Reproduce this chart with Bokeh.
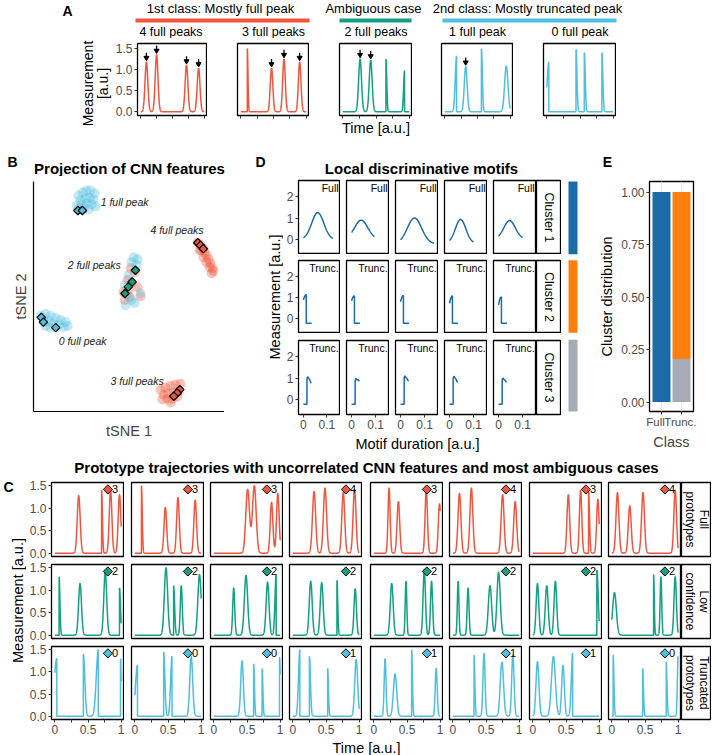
import math
import numpy as np
from bokeh.plotting import figure
from bokeh.layouts import row, column
from bokeh.models import (Range1d, FixedTicker, NumeralTickFormatter,
                          CustomJSTickFormatter, ColumnDataSource, Label, LinearAxis)
from bokeh.core.properties import value
from bokeh.embed import file_html
from bokeh.resources import INLINE

FONT = "Liberation Sans"
RED, TEAL, BLUE = "#F2553D", "#13A083", "#4FBFE0"
CL1, CL2, CL3 = "#1B6BA8", "#FF7F0E", "#A4ABB6"
GREY_TXT = "#4D4D4D"

# ======================= DATA =======================
# ---- Panel A
A_GROUPS = ["1st class: Mostly full peak", "Ambiguous case", "2nd class: Mostly truncated peak"]
A_TITLES = ["4 full peaks", "3 full peaks", "2 full peaks", "1 full peak", "0 full peak"]
# peaks: (centre, height, width, kind)  kind: f = full, L = cut right after top, R = starts at top
A_PEAKS_4 = [(0.09, 1.18, 0.022, "f"), (0.25, 1.35, 0.022, "f"), (0.72, 1.10, 0.022, "f"), (0.91, 1.03, 0.022, "f")]
A_PEAKS_3 = [(0.10, 1.50, 0.010, "R"), (0.47, 1.03, 0.020, "f"), (0.66, 1.25, 0.020, "f"), (0.90, 1.18, 0.020, "f")]
A_PEAKS_2 = [(0.26, 1.25, 0.022, "f"), (0.42, 1.22, 0.022, "f"), (0.65, 1.25, 0.012, "R"), (0.93, 0.97, 0.014, "L")]
A_PEAKS_1 = [(0.18, 1.32, 0.020, "L"), (0.32, 1.07, 0.022, "f"), (0.56, 1.49, 0.014, "R"), (0.94, 1.08, 0.026, "f")]
A_PEAKS_0 = [(0.03, 1.18, 0.025, "L"), (0.44, 1.48, 0.014, "R"), (0.565, 1.40, 0.014, "R"), (0.83, 1.40, 0.014, "R")]
A_ARROWS = [[0, 1, 2, 3], [1, 2, 3], [0, 1], [1], []]

# ---- Panel B (tSNE coordinates)
B_BLUE_X = [-16.7, -15.3, -14.0, -12.7, -11.3, -16.0, -14.3, -13.0, -11.7, -17.3, -15.7, -14.0, -12.3, -11.0,
            -16.7, -15.0, -13.3,
            -29.3, -27.7, -26.0, -24.3, -22.7, -21.0, -28.3, -26.7, -25.0, -23.3, -21.7, -20.3, -26.0, -27.7,
            1.7, 3.0, 1.0, 2.7, 0.0, -1.3, -0.3, 1.0, -1.0, 2.0, 4.0]
B_BLUE_Y = [34.0, 35.0, 35.7, 35.7, 34.7, 32.3, 33.0, 33.3, 32.7, 30.7, 31.0, 31.3, 31.0, 30.3,
            29.3, 29.7, 29.3,
            -6.3, -5.7, -6.3, -7.0, -7.7, -8.3, -8.3, -8.0, -9.0, -9.3, -10.0, -9.7, -10.3, -9.7,
            13.3, 12.7, 11.7, 10.7, 7.3, 4.0, 0.7, -1.0, -2.7, -2.0, 1.3]
B_RED_X = [23.0, 24.0, 25.0, 23.7, 25.3, 26.0, 25.0, 26.7, 26.0, 27.3, 27.0, 28.0, 28.3, 27.7, 24.3,
           10.7, 12.3, 14.0, 15.7, 17.3, 11.7, 13.3, 15.0, 16.7, 11.3, 13.0, 14.7, 16.3, 14.0,
           0.7, 2.0, -0.3, 1.0, -1.7, 0.0, -1.3, 0.3, 3.0, 4.0]
B_RED_Y = [18.3, 17.3, 16.3, 15.7, 15.0, 14.0, 13.3, 12.7, 11.7, 11.3, 10.0, 9.7, 8.7, 8.0, 15.7,
           -31.0, -30.3, -29.7, -29.3, -29.0, -32.7, -32.3, -32.0, -31.7, -34.3, -34.0, -34.0, -33.3, -35.3,
           9.7, 8.3, 5.7, 4.7, 1.7, 2.3, -1.0, 0.0, 3.3, 0.3]
B_DIA_RED_X = [23.1, 24.0, 24.9, 17.1, 16.2, 15.1]
B_DIA_RED_Y = [18.2, 17.3, 16.2, -31.0, -32.1, -33.2]
B_DIA_TEAL_X = [2.3, 1.2, -0.1, -1.2]
B_DIA_TEAL_Y = [9.0, 5.1, 3.4, 1.2]
B_DIA_BLUE_X = [-16.9, -15.4, -29.1, -28.4, -24.3]
B_DIA_BLUE_Y = [29.0, 29.0, -6.8, -8.4, -10.2]
B_LABELS = ["1 full peak", "4 full peaks", "2 full peaks", "0 full peak", "3 full peaks"]
B_LABEL_X = [-9.3, 7.3, -20.3, -23.3, -6.0]
B_LABEL_Y = [31.7, 22.3, 10.7, -14.7, -28.0]

# ---- Panel D (motifs)
D_CLUSTERS = ["Cluster 1", "Cluster 2", "Cluster 3"]
D_TAGS = ["Full", "Trunc.", "Trunc."]
D_FULL_C = [0.061, 0.040, 0.058, 0.046, 0.046]
D_FULL_A = [1.25, 0.90, 1.20, 1.10, 0.85]
D_FULL_B = [0.00, 0.00, -0.20, -0.17, 0.03]
D_FULL_S = [0.026, 0.028, 0.030, 0.022, 0.024]
D_FULL_END = [0.126, 0.095, 0.140, 0.100, 0.100]
D_C2_START = [0.88, 0.85, 0.80, 0.72, 0.65]
D_C2_TOP = [1.14, 1.08, 1.10, 1.08, 1.03]
D_C3_TOP = [1.06, 0.98, 1.10, 1.08, 1.00]
D_C3_END = [0.76, 0.85, 0.85, 0.80, 0.80]
D_LOW = -0.22

# ---- Panel E
E_CLASSES = ["Full", "Trunc."]
E_CLUSTER1 = [1.00, 0.00]
E_CLUSTER2 = [0.00, 0.795]
E_CLUSTER3 = [0.00, 0.205]

# ---- Panel C
C_STRIPS = ["Full\nprototypes", "Low\nconfidence", "Truncated\nprototypes"]
C_BADGE_FULL = [3, 3, 3, 4, 3, 4, 3, 4]
C_BADGE_LOW = [2, 2, 2, 2, 2, 2, 2, 2]
C_BADGE_TRUNC = [0, 0, 0, 1, 1, 1, 1, 0]
C_ROW_FULL = [
    [(0.36, 1.28, 0.022, "f"), (0.705, 1.40, 0.012, "R"), (0.84, 1.40, 0.020, "f"), (0.975, 1.30, 0.020, "f")],
    [(0.10, 1.50, 0.012, "R"), (0.46, 1.02, 0.020, "f"), (0.65, 1.24, 0.020, "f"), (0.91, 1.18, 0.020, "f")],
    [(0.51, 1.42, 0.028, "f"), (0.61, 1.50, 0.028, "f"), (0.87, 1.13, 0.020, "f"), (0.965, 1.33, 0.020, "f")],
    [(0.32, 1.37, 0.024, "f"), (0.485, 1.45, 0.024, "f"), (0.76, 1.35, 0.022, "f"), (0.93, 1.42, 0.022, "f")],
    [(0.23, 1.45, 0.016, "f"), (0.37, 1.15, 0.020, "f"), (0.79, 1.40, 0.018, "f"), (0.99, 1.10, 0.018, "f")],
    [(0.10, 1.33, 0.022, "f"), (0.28, 1.45, 0.022, "f"), (0.75, 1.30, 0.022, "f"), (0.94, 1.15, 0.022, "f")],
    [(0.535, 1.30, 0.020, "f"), (0.72, 1.40, 0.018, "f"), (0.84, 1.40, 0.014, "R"), (0.98, 1.20, 0.018, "f")],
    [(0.085, 1.35, 0.022, "f"), (0.27, 1.05, 0.022, "f"), (0.47, 1.35, 0.022, "f"), (0.955, 1.40, 0.020, "f")],
]
C_ROW_LOW = [
    [(0.065, 1.30, 0.012, "R"), (0.38, 1.15, 0.022, "f"), (0.76, 1.40, 0.022, "f"), (0.975, 1.05, 0.015, "R")],
    [(0.47, 1.50, 0.025, "f"), (0.585, 1.10, 0.015, "R"), (0.70, 1.10, 0.015, "f"), (0.975, 1.35, 0.025, "f")],
    [(0.30, 1.05, 0.015, "f"), (0.485, 1.33, 0.025, "f"), (0.81, 1.18, 0.022, "f"), (0.94, 1.35, 0.018, "L")],
    [(0.27, 1.20, 0.022, "f"), (0.435, 1.17, 0.022, "f"), (0.665, 1.22, 0.012, "R"), (0.94, 1.03, 0.018, "f")],
    [(0.27, 1.15, 0.022, "f"), (0.485, 1.20, 0.012, "f"), (0.76, 1.45, 0.018, "f"), (0.87, 1.20, 0.016, "f")],
    [(0.08, 1.20, 0.012, "f"), (0.23, 1.05, 0.014, "f"), (0.56, 1.10, 0.025, "f"), (0.69, 1.40, 0.025, "f")],
    [(0.07, 1.15, 0.020, "f"), (0.21, 1.10, 0.022, "f"), (0.34, 1.20, 0.020, "f"), (0.965, 1.45, 0.020, "R")],
    [(0.04, 0.95, 0.028, "f"), (0.63, 1.35, 0.010, "R"), (0.74, 1.30, 0.012, "f"), (0.955, 1.30, 0.018, "f")],
]
C_ROW_TRUNC = [
    [(0.03, 1.30, 0.040, "L"), (0.43, 1.40, 0.022, "R"), (0.655, 1.50, 0.030, "L"), (0.99, 1.30, 0.010, "R")],
    [(0.04, 1.15, 0.030, "L"), (0.435, 1.45, 0.018, "R"), (0.56, 1.35, 0.020, "L"), (0.85, 1.35, 0.022, "f")],
    [(0.425, 1.25, 0.020, "f"), (0.60, 1.18, 0.012, "R"), (0.727, 1.08, 0.012, "R"), (0.99, 1.33, 0.012, "R")],
    [(0.106, 1.50, 0.020, "L"), (0.25, 1.35, 0.016, "R"), (0.525, 1.08, 0.012, "R"), (0.955, 1.28, 0.022, "f")],
    [(0.17, 1.30, 0.014, "f"), (0.32, 0.95, 0.025, "f"), (0.57, 1.50, 0.012, "R"), (0.94, 1.08, 0.015, "f")],
    [(0.32, 1.38, 0.012, "R"), (0.47, 1.42, 0.016, "f"), (0.74, 1.22, 0.025, "f"), (0.905, 1.38, 0.018, "f")],
    [(0.07, 1.23, 0.022, "f"), (0.31, 1.35, 0.030, "f"), (0.455, 1.15, 0.020, "f"), (0.60, 1.42, 0.020, "L")],
    [(0.02, 1.38, 0.012, "R"), (0.465, 1.08, 0.012, "R"), (0.82, 1.22, 0.012, "R"), (1.00, 1.35, 0.012, "L")],
]

# ======================= HELPERS =======================
T = np.linspace(0.0, 1.0, 1601)


def trace(peaks):
    y = np.zeros_like(T)
    for c, h, s, kind in peaks:
        g = h * np.exp(-0.5 * ((T - c) / s) ** 2)
        if kind == "L":
            g[T > c] = 0.0
        elif kind == "R":
            g[T < c] = 0.0
        y = y + g
    return y


def new_fig(w, h, xr, yr, bl=0, br=0, bt=0, bb=0, xaxis=False, yaxis=False, outline=True):
    p = figure(width=w, height=h, x_range=xr, y_range=yr,
               x_axis_location="below" if xaxis else None,
               y_axis_location="left" if yaxis else None,
               min_border_left=bl, min_border_right=br, min_border_top=bt, min_border_bottom=bb,
               output_backend="svg", toolbar_location=None)
    p.outline_line_color = "black" if outline else None
    p.outline_line_width = 1.3
    p.grid.visible = False
    p.background_fill_color = "white"
    p.border_fill_color = "white"
    return p


def canvas(x0, x1, y0, y1, bt=0, bb=0):
    """blank panel whose frame spans page pixels x0..x1, y0..y1 (y downwards)"""
    return new_fig(x1 - x0, y1 - y0 + bt + bb, Range1d(x0, x1), Range1d(y1, y0), bt=bt, bb=bb,
                   outline=False)


def style_axis(ax, ticks, fmt=None, show_labels=True):
    ax.ticker = FixedTicker(ticks=ticks, minor_ticks=[])
    if fmt is not None:
        ax.formatter = fmt
    ax.axis_line_color = None
    ax.major_tick_line_color = "#333333"
    ax.major_tick_line_width = 1
    ax.major_tick_out = 3
    ax.major_tick_in = 0
    ax.minor_tick_line_color = None
    ax.major_label_text_font = FONT
    ax.major_label_text_font_size = "12px" if show_labels else "1px"
    ax.major_label_text_color = GREY_TXT if show_labels else None
    ax.major_label_standoff = 2 if show_labels else 0
    ax.axis_label_text_font = FONT
    ax.axis_label_text_font_style = "normal"
    ax.axis_label_text_font_size = "14.5px"
    ax.axis_label_text_color = "black"


def put_text(p, x, y, s, size, style="normal", align="center", baseline="middle",
             angle=0.0, color="black", line_height=1.1):
    p.add_layout(Label(x=x, y=y, text=s, angle=angle, text_font=FONT, text_font_size=size,
                       text_font_style=style, text_align=align, text_baseline=baseline,
                       text_color=color, text_line_height=line_height))


TIME_FMT = CustomJSTickFormatter(code="return (tick == 0.25 || tick == 0.75) ? '' : String(tick);")

# ======================= PANEL A =======================
A_FRAME_X = [134, 237, 339, 441, 543]
A_FRAME_W = [73, 72, 73, 72, 73]

hdrA = canvas(0, 712, 0, 38)
put_text(hdrA, 67, 10, "A", "14px", style="bold")
grp_x = [(135, 309, RED), (339, 411, TEAL), (442, 616, BLUE)]
for (gx0, gx1, gc), gname in zip(grp_x, A_GROUPS):
    put_text(hdrA, (gx0 + gx1) / 2 - 2, 8, gname, "13px")
    hdrA.quad(left=[gx0], right=[gx1], top=[18], bottom=[22], fill_color=gc, line_color=None)
for i, t in enumerate(A_TITLES):
    put_text(hdrA, A_FRAME_X[i] + A_FRAME_W[i] / 2, 31, t, "12.5px")

alab = canvas(0, 112, 38, 138)
put_text(alab, 87, 83, "Measurement", "14px", angle=math.pi / 2)
put_text(alab, 102, 83, "[a.u.]", "14px", angle=math.pi / 2)

a_peaks = [A_PEAKS_4, A_PEAKS_3, A_PEAKS_2, A_PEAKS_1, A_PEAKS_0]
a_cols = [RED, RED, TEAL, BLUE, BLUE]
a_figs = []
prev_end = 112
for i in range(5):
    bl = A_FRAME_X[i] - prev_end
    prev_end = A_FRAME_X[i] + A_FRAME_W[i]
    p = new_fig(bl + A_FRAME_W[i], 100, Range1d(-0.05, 1.05), Range1d(-0.09, 1.62), bl=bl, bt=5, bb=21,
                xaxis=True, yaxis=(i == 0))
    style_axis(p.xaxis[0], [0, 0.25, 0.5, 0.75, 1], show_labels=False)
    if i == 0:
        style_axis(p.yaxis[0], [0, 0.5, 1, 1.5], fmt=NumeralTickFormatter(format="0.0"))
    if i == 2:
        p.xaxis[0].axis_label = "Time [a.u.]"
        p.xaxis[0].axis_label_standoff = 1
    p.line(T, trace(a_peaks[i]), line_color=a_cols[i], line_width=1.5)
    ax_x = [a_peaks[i][k][0] for k in A_ARROWS[i]]
    ax_h = [a_peaks[i][k][1] for k in A_ARROWS[i]]
    if ax_x:
        p.segment(x0=ax_x, y0=[h + 0.22 for h in ax_h], x1=ax_x, y1=[h + 0.11 for h in ax_h],
                  line_color="black", line_width=1.3)
        p.scatter(x=ax_x, y=[h + 0.10 for h in ax_h], marker="inverted_triangle", size=5,
                  fill_color="black", line_color="black")
    a_figs.append(p)

# ======================= HEADER MIDDLE =======================
hdrM = canvas(0, 712, 138, 176)
put_text(hdrM, 12, 161, "B", "14px", style="bold")
put_text(hdrM, 260, 161, "D", "14px", style="bold")
put_text(hdrM, 607, 161, "E", "14px", style="bold")
put_text(hdrM, 129, 167.5, "Projection of CNN features", "15px", style="bold")
put_text(hdrM, 421, 167.5, "Local discriminative motifs", "15px", style="bold")

# ======================= PANEL B =======================
M_BT, M_BB = 5, 40          # shared top / bottom border of the middle row
pb = new_fig(224, 276, Range1d(-31.7, 32), Range1d(-38.3, 38.7), bl=33, bt=M_BT, bb=M_BB,
             xaxis=True, yaxis=True, outline=False)
for ax in (pb.xaxis[0], pb.yaxis[0]):
    ax.ticker = FixedTicker(ticks=[], minor_ticks=[])
    ax.axis_line_color = "black"
    ax.axis_line_width = 1.2
    ax.major_tick_line_color = None
    ax.minor_tick_line_color = None
    ax.major_label_text_font_size = "1px"
    ax.major_label_text_color = None
    ax.major_label_standoff = 0
    ax.axis_label_text_font = FONT
    ax.axis_label_text_font_style = "normal"
    ax.axis_label_text_font_size = "14.5px"
pb.xaxis[0].axis_label = "tSNE 1"
pb.xaxis[0].axis_label_standoff = 11
pb.yaxis[0].axis_label = "tSNE 2"
pb.yaxis[0].axis_label_standoff = 5
pb.scatter(B_RED_X, B_RED_Y, size=10, fill_color=RED, fill_alpha=0.35, line_color=None)
pb.scatter(B_BLUE_X, B_BLUE_Y, size=10, fill_color=BLUE, fill_alpha=0.35, line_color=None)
for dx, dy, dc in ((B_DIA_BLUE_X, B_DIA_BLUE_Y, BLUE), (B_DIA_RED_X, B_DIA_RED_Y, RED),
                   (B_DIA_TEAL_X, B_DIA_TEAL_Y, TEAL)):
    pb.scatter(dx, dy, marker="square", angle=math.pi / 4, size=6, fill_color=dc,
               line_color="black", line_width=1.2)
pb.text(x=B_LABEL_X, y=B_LABEL_Y, text=B_LABELS, text_font=value(FONT), text_font_size=value("10.5px"),
        text_font_style="italic", text_align="left", text_baseline="middle", text_color="#222222")

# ======================= PANEL D =======================
dylab = canvas(224, 283, 181, 412, bt=M_BT, bb=M_BB)
put_text(dylab, 274, 297, "Measurement [a.u.]", "14.5px", angle=math.pi / 2)


def motif(r, c):
    if r == 0:
        t = np.linspace(0, D_FULL_END[c], 80)
        y = D_FULL_B[c] + D_FULL_A[c] * np.exp(-0.5 * ((t - D_FULL_C[c]) / D_FULL_S[c]) ** 2)
        return t, y
    if r == 1:
        st, tp = D_C2_START[c], D_C2_TOP[c]
        d = tp - st
        t = [0, 0.003, 0.006, 0.009, 0.012, 0.0121, 0.035]
        y = [st, st + 0.45 * d, st + 0.75 * d, st + 0.95 * d, tp, D_LOW, D_LOW]
        return t, y
    tp, en = D_C3_TOP[c], D_C3_END[c]
    t = [0, 0.015, 0.0151, 0.018, 0.022, 0.027, 0.033]
    y = [D_LOW, D_LOW, tp - 0.08, tp, tp - 0.06, (tp + en) / 2, en]
    return t, y


D_BT = [4, 6, 7]
D_FH = [74, 73, 74]
D_BB = [0, 0, 20]
d_rows = []
for r in range(3):
    figs = []
    h = D_BT[r] + D_FH[r] + D_BB[r]
    for c in range(5):
        bl = 14 if c == 0 else 6
        p = new_fig(bl + 43, h, Range1d(-0.021, 0.158), Range1d(-0.7, 2.75), bl=bl, bt=D_BT[r],
                    bb=D_BB[r], xaxis=(r == 2), yaxis=(c == 0))
        if r == 2:
            style_axis(p.xaxis[0], [0, 0.1], fmt=TIME_FMT)
        if c == 0:
            style_axis(p.yaxis[0], [0, 1, 2])
        mt, my = motif(r, c)
        p.line(mt, my, line_color=CL1, line_width=1.5)
        put_text(p, 0.150, 2.68, D_TAGS[r], "10.5px", align="right", baseline="top")
        figs.append(p)
    strip = new_fig(25, h, Range1d(0, 1), Range1d(0, 1), bt=D_BT[r], bb=D_BB[r])
    put_text(strip, 0.5, 0.5, D_CLUSTERS[r], "12.5px", angle=-math.pi / 2)
    figs.append(strip)
    d_rows.append(row(*figs))

dxlab = canvas(283, 561, 434, 452)
put_text(dxlab, 417, 443, "Motif duration [a.u.]", "14.5px")

cbar = canvas(561, 596, 181, 412, bt=M_BT, bb=M_BB)
cbar.quad(left=[568, 568, 568], right=[577, 577, 577], top=[180, 260, 340], bottom=[254, 333, 414],
          fill_color=[CL1, CL2, CL3], line_color=None)

# ======================= PANEL E =======================
E_POS = [i + 0.5 for i in range(len(E_CLASSES))]
src = ColumnDataSource(dict(pos=E_POS, cls=E_CLASSES, c1=E_CLUSTER1, c2=E_CLUSTER2, c3=E_CLUSTER3))
pe = figure(width=100, height=276, x_range=Range1d(-0.1, 2.1),
            y_range=Range1d(-0.045, 1.05), min_border_left=50, min_border_right=3,
            min_border_top=M_BT, min_border_bottom=M_BB, output_backend="svg", toolbar_location=None)
pe.outline_line_color = "black"
pe.outline_line_width = 1.3
pe.ygrid.visible = False
pe.xgrid.ticker = FixedTicker(ticks=E_POS, minor_ticks=[])
pe.xgrid.grid_line_color = "#E6E6E6"
pe.vbar_stack(["c3", "c2", "c1"], x="pos", width=0.9, fill_color=[CL3, CL2, CL1],
              line_color=None, source=src)
style_axis(pe.yaxis[0], [0, 0.25, 0.5, 0.75, 1], fmt=NumeralTickFormatter(format="0.00"))
pe.yaxis[0].axis_label = "Cluster distribution"
pe.yaxis[0].axis_label_standoff = 3
xa = pe.xaxis[0]                     # tick marks at the two classes
style_axis(xa, E_POS, show_labels=False)
# second axis carrying the class names, nudged apart as in the reference
lab_ax = LinearAxis(ticker=FixedTicker(ticks=[0.20, 1.87], minor_ticks=[]),
                    formatter=CustomJSTickFormatter(args=dict(names=E_CLASSES),
                                                    code="return tick < 1 ? names[0] : names[1];"))
lab_ax.axis_line_color = None
lab_ax.major_tick_line_color = None
lab_ax.minor_tick_line_color = None
lab_ax.major_tick_out = 0
lab_ax.major_tick_in = 0
lab_ax.major_label_standoff = 1
lab_ax.major_label_text_font = FONT
lab_ax.major_label_text_font_size = "11.5px"
lab_ax.major_label_text_color = GREY_TXT
lab_ax.axis_label = "Class"
lab_ax.axis_label_standoff = 3
lab_ax.axis_label_text_font = FONT
lab_ax.axis_label_text_font_style = "normal"
lab_ax.axis_label_text_font_size = "14.5px"
pe.add_layout(lab_ax, "below")

# ======================= PANEL C =======================
hdrC = canvas(0, 712, 452, 478)
put_text(hdrC, 366, 467, "Prototype trajectories with uncorrelated CNN features and most ambiguous cases",
         "15px", style="bold")

cylab = canvas(0, 26, 478, 755)
put_text(cylab, 8, 486, "C", "14px", style="bold")
put_text(cylab, 17, 600, "Measurement [a.u.]", "14.5px", angle=math.pi / 2)

C_FRAME_X = [51, 131, 210, 289, 370, 449, 529, 608]
C_FW = 73
C_BT = [4, 4, 4]
C_FH = [74, 74, 73]
C_BB = [4, 4, 20]
c_rows_data = [C_ROW_FULL, C_ROW_LOW, C_ROW_TRUNC]
c_badges = [C_BADGE_FULL, C_BADGE_LOW, C_BADGE_TRUNC]
c_cols = [RED, TEAL, BLUE]
c_rows = []
for r in range(3):
    figs = []
    h = C_BT[r] + C_FH[r] + C_BB[r]
    prev_end = 26
    for k in range(8):
        bl = C_FRAME_X[k] - prev_end
        prev_end = C_FRAME_X[k] + C_FW
        p = new_fig(bl + C_FW, h, Range1d(-0.05, 1.05), Range1d(-0.075, 1.575), bl=bl, bt=C_BT[r],
                    bb=C_BB[r], xaxis=(r == 2), yaxis=(k == 0))
        if r == 2:
            style_axis(p.xaxis[0], [0, 0.25, 0.5, 0.75, 1], fmt=TIME_FMT)
        if k == 0:
            style_axis(p.yaxis[0], [0, 0.5, 1, 1.5], fmt=NumeralTickFormatter(format="0.0"))
        p.line(T, trace(c_rows_data[r][k]), line_color=c_cols[r], line_width=1.5)
        p.scatter(x=[0.80], y=[1.42], marker="square", angle=math.pi / 4, size=6.5,
                  fill_color=c_cols[r], line_color="black", line_width=1)
        put_text(p, 0.86, 1.42, str(c_badges[r][k]), "11px", align="left")
        figs.append(p)
    strip = new_fig(30, h, Range1d(0, 1), Range1d(0, 1), bt=C_BT[r], bb=C_BB[r])
    put_text(strip, 0.5, 0.5, C_STRIPS[r], "12px", angle=-math.pi / 2, line_height=1.0)
    figs.append(strip)
    c_rows.append(row(*figs))

cxlab = canvas(26, 711, 739, 755)
put_text(cxlab, 366, 747, "Time [a.u.]", "14.5px")

# ======================= LAYOUT =======================
layout = column(
    hdrA,
    row(column(alab), *a_figs),
    hdrM,
    row(pb, dylab, column(*d_rows, dxlab), cbar, pe),
    hdrC,
    row(cylab, column(*c_rows, cxlab)),
)

open("out.html", "w").write(file_html(layout, INLINE, title="CNN features figure"))
